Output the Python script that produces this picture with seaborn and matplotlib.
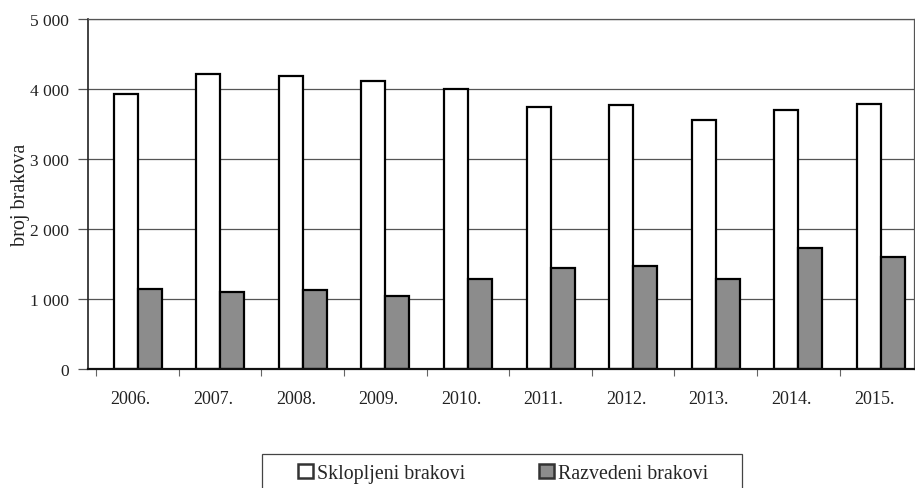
import matplotlib
matplotlib.use("Agg")
import matplotlib.pyplot as plt
from matplotlib.ticker import FixedLocator
from matplotlib.transforms import ScaledTranslation
from matplotlib.patches import Rectangle
import pandas as pd
import seaborn as sns

# data
godine = ["2006.", "2007.", "2008.", "2009.", "2010.", "2011.", "2012.", "2013.", "2014.", "2015."]
sklopljeni = [3930, 4210, 4190, 4120, 4000, 3740, 3770, 3560, 3700, 3780]
razvedeni = [1140, 1095, 1130, 1040, 1285, 1440, 1465, 1285, 1735, 1595]
serije = ["Sklopljeni brakovi", "Razvedeni brakovi"]
y_ticks = [0, 1000, 2000, 3000, 4000, 5000]
y_labels = ["0", "1 000", "2 000", "3 000", "4 000", "5 000"]

df = pd.DataFrame({
    "godina": godine * 2,
    "broj": sklopljeni + razvedeni,
    "vrsta": [serije[0]] * len(godine) + [serije[1]] * len(godine),
})

sns.set_style("white")
plt.rcParams["font.family"] = ["Liberation Serif", "DejaVu Serif"]

fig = plt.figure(figsize=(9.15, 4.89), dpi=100)
ax = fig.add_axes([0.0962, 0.2434, 0.9027, 0.7156])

sns.barplot(data=df, x="godina", y="broj", hue="vrsta",
            palette=["white", "#8c8c8c"], width=0.58,
            edgecolor="black", linewidth=1.6, saturation=1, ax=ax)

handles, labels = ax.get_legend_handles_labels()
ax.get_legend().remove()

ax.set_xlim(-0.6, 9.4)
ax.set_ylim(0, 5000)
ax.set_yticks(y_ticks)
ax.set_yticklabels(y_labels)
ax.yaxis.grid(True, color="#555555", linewidth=0.9)
ax.set_axisbelow(True)

ax.set_xlabel("")
ax.set_ylabel("broj brakova", fontsize=14.5, color="#222222", labelpad=0)
ax.tick_params(axis="x", length=0, pad=15, labelsize=13, colors="#222222")
ax.tick_params(axis="y", length=7, width=0.9, color="#555555", pad=7, left=True,
               labelsize=12.5, labelcolor="#222222")
ax.xaxis.set_minor_locator(FixedLocator([i + 0.5 for i in range(-1, 10)]))
ax.tick_params(axis="x", which="minor", bottom=True, length=5, width=0.8,
               color="#666666", direction="out")
# year labels sit a little left of the bar pairs in the original
shift = ScaledTranslation(-7 / 100, 0, fig.dpi_scale_trans)
for lbl in ax.get_xticklabels():
    lbl.set_transform(lbl.get_transform() + shift)

for side in ["top", "right"]:
    ax.spines[side].set_color("#555555")
    ax.spines[side].set_linewidth(0.9)
ax.spines["left"].set_color("#222222")
ax.spines["left"].set_linewidth(1.2)
ax.spines["bottom"].set_color("#111111")
ax.spines["bottom"].set_linewidth(1.6)

# legend box at the bottom, cut off by the page edge
leg = fig.legend(handles, labels, loc="upper center", bbox_to_anchor=(0.55, 0.0695),
                 ncol=2, fontsize=14.3, frameon=False,
                 handlelength=0.75, handleheight=0.75, handletextpad=0.2,
                 columnspacing=3.7, borderpad=0.5, borderaxespad=0)
for p in leg.get_patches():
    p.set_linewidth(1.8)
    p.set_edgecolor("#333333")
fig.patches.append(Rectangle((262 / 915, -0.05), 480 / 915, 0.05 + 0.0695,
                             transform=fig.transFigure, fill=False,
                             edgecolor="#444444", linewidth=0.9))

fig.savefig("out.png", dpi=100)
